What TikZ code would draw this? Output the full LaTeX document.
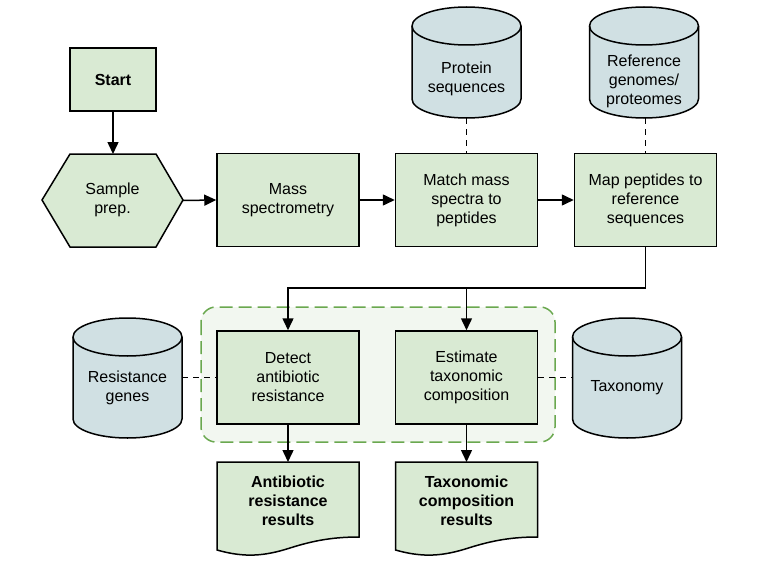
\documentclass[tikz,border=0pt]{standalone}
\usepackage{fontspec}
\setmainfont{Liberation Sans}
\usetikzlibrary{arrows.meta}
\definecolor{boxgreen}{HTML}{D9EAD3}
\definecolor{cylblue}{HTML}{D0E0E3}
\definecolor{grpgreen}{HTML}{6AA84F}
\definecolor{grpfill}{HTML}{F2F7F0}
\tikzset{
  txt/.style={align=center, font=\fontsize{16}{19}\selectfont, inner sep=0pt},
  boldtxt/.style={txt, font=\fontsize{16}{19}\selectfont\bfseries},
  procbox/.style={draw, fill=boxgreen, line width=1.5pt, minimum width=142pt, minimum height=93pt, txt},
  ghost/.style={inner sep=0pt, outer sep=0pt},
  cylline/.style={draw, fill=cylblue, line width=1.5pt},
  arr/.style={line width=1.5pt, -{Triangle[length=12pt,width=11pt]}},
  dashline/.style={line width=1.5pt, dash pattern=on 6pt off 5pt},
  docline/.style={draw, fill=boxgreen, line width=1.5pt},
}
% name, cx, top, bottom, text centre y, text
\newcommand\dbcyl[6]{%
  \pgfmathsetmacro\cyT{-(#3)-19}%
  \pgfmathsetmacro\cyB{-(#4)+19}%
  \pgfmathsetmacro\cyM{-((#3)+(#4))/2}%
  \pgfmathsetmacro\cyH{(#4)-(#3)}%
  \pgfmathsetmacro\cyL{(#2)-54.5}%
  \pgfmathsetmacro\cyR{(#2)+54.5}%
  \draw[cylline] (\cyL,\cyT) -- (\cyL,\cyB) arc[start angle=180,end angle=360,x radius=54.5pt,y radius=19pt] -- (\cyR,\cyT) arc[start angle=0,end angle=180,x radius=54.5pt,y radius=19pt] -- cycle;
  \draw[line width=1.5pt] (\cyL,\cyT) arc[start angle=180,end angle=360,x radius=54.5pt,y radius=19pt];
  \node[ghost, minimum width=109pt, minimum height=\cyH pt] (#1) at (#2,\cyM) {};
  \node[txt] at (#2,-#5) {#6};
}
\begin{document}
\begin{tikzpicture}[x=1pt,y=1pt]
\useasboundingbox (0,0) rectangle (763,-586);

% group
\draw[grpgreen, fill=grpfill, line width=1.5pt, dash pattern=on 13pt off 6pt, rounded corners=15pt]
  (201,-307) rectangle (555,-442);

% start
\node[procbox, minimum width=86pt, minimum height=63pt, font=\fontsize{16}{19}\selectfont\bfseries] (start) at (113,-79.5) {Start};

% hexagon
\draw[docline] (42,-200) -- (70,-154) -- (156,-154) -- (183,-200) -- (156,-247) -- (70,-247) -- cycle;
\node[ghost, minimum width=141pt, minimum height=93pt] (prep) at (112.5,-200.5) {};
\node[txt] at (112.5,-200) {Sample\\prep.};

\node[procbox] (mass) at (288,-200) {Mass\\spectrometry};
\node[procbox] (match) at (466.5,-200) {Match mass\\spectra to\\peptides};
\node[procbox] (mapp) at (645.5,-200) {Map peptides to\\reference\\sequences};

\node[procbox] (detect) at (288,-377.5) {Detect\\antibiotic\\resistance};
\node[procbox] (estim) at (466.5,-377.5) {Estimate\\taxonomic\\composition};

% cylinders
\dbcyl{prot}{466.5}{7}{118}{79}{Protein\\sequences}
\dbcyl{ref}{644}{7}{118}{81}{Reference\\genomes/\\proteomes}
\dbcyl{resist}{127.5}{318}{438}{387.5}{Resistance\\genes}
\dbcyl{taxo}{627}{318}{438}{388}{Taxonomy}

% documents
\draw[docline] (217,-462) -- (359,-462) -- (359,-537) .. controls (335,-537) and (315,-540) .. (290,-548) .. controls (265,-556) and (245,-558) .. (217,-550) -- cycle;
\node[ghost, minimum width=142pt, minimum height=88pt] (res1) at (288,-506) {};
\node[boldtxt] at (288,-501) {Antibiotic\\resistance\\results};

\draw[docline] (395.5,-462) -- (537.5,-462) -- (537.5,-537) .. controls (513.5,-537) and (493.5,-540) .. (468.5,-548) .. controls (443.5,-556) and (423.5,-558) .. (395.5,-550) -- cycle;
\node[ghost, minimum width=142pt, minimum height=88pt] (res2) at (466.5,-506) {};
\node[boldtxt] at (466.5,-501) {Taxonomic\\composition\\results};

% connectors
\coordinate (bus) at (0,-288);
\draw[arr] (start.south) -- (start.south |- prep.north);
\draw[arr] (prep.east) -- (mass.west);
\draw[arr] (mass.east) -- (match.west);
\draw[arr] (match.east) -- (mapp.west);
\draw[arr] (mapp.south) |- (bus -| detect.north) -- (detect.north);
\draw[arr] (bus -| estim.north) -- (estim.north);
\draw[arr] (detect.south) -- (res1.north);
\draw[arr] (estim.south) -- (res2.north);

\draw[dashline] (prot.south) -- (match.north);
\draw[dashline] (mapp.north |- ref.south) -- (mapp.north);
\draw[dashline] (resist.east |- detect.west) -- (detect.west);
\draw[dashline] (estim.east) -- (taxo.west |- estim.east);
\end{tikzpicture}
\end{document}
